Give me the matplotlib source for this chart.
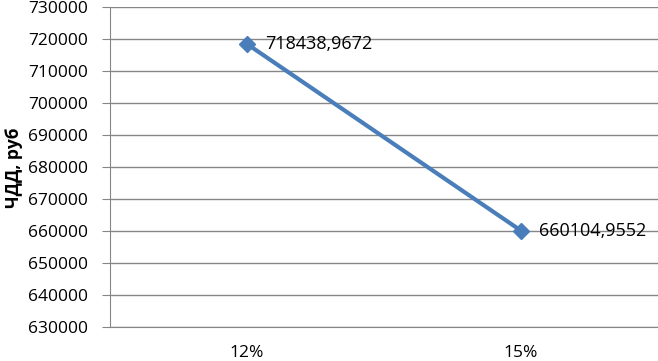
import matplotlib
matplotlib.use('Agg')
import matplotlib.pyplot as plt

# values
categories = ['12%', '15%']
npv = [718438.9672, 660104.9552]
labels = ['718438,9672', '660104,9552']
yticks = list(range(630000, 730001, 10000))

plt.rcParams['font.family'] = ['Open Sans', 'DejaVu Sans']

fig = plt.figure(figsize=(6.58, 3.61), dpi=100)
ax = fig.add_axes([0.1672, 0.0942, 0.8328, 0.8864])

x = list(range(len(categories)))
ax.plot(x, npv, color='#4A7EBB', linewidth=3, marker='D', markersize=8, zorder=3)
for xi, v, t in zip(x, npv, labels):
  ax.annotate(t, xy=(xi, v), xytext=(13, 0), textcoords='offset points', va='center', ha='left', fontsize=13, color='black')

ax.set_xlim(-0.5, 1.5)
ax.set_ylim(630000, 730000)
ax.set_yticks(yticks)
ax.set_yticklabels([str(t) for t in yticks], fontsize=12.5)
ax.set_xticks(x)
ax.set_xticklabels(categories, fontsize=12.5)
ax.yaxis.grid(True, color='#868686', linewidth=1)
ax.set_axisbelow(True)
for s in ['top', 'right']:
  ax.spines[s].set_visible(False)
ax.spines['left'].set_color('#868686')
ax.spines['bottom'].set_color('#868686')
ax.tick_params(axis='y', length=6, color='#868686', pad=10)
ax.tick_params(axis='x', length=0, pad=13)
ax.set_ylabel('ЧДД, руб', fontsize=12.5, fontweight='bold', va='center')
ax.yaxis.set_label_coords(-0.176, 0.497)

fig.savefig('out.png', dpi=100)
